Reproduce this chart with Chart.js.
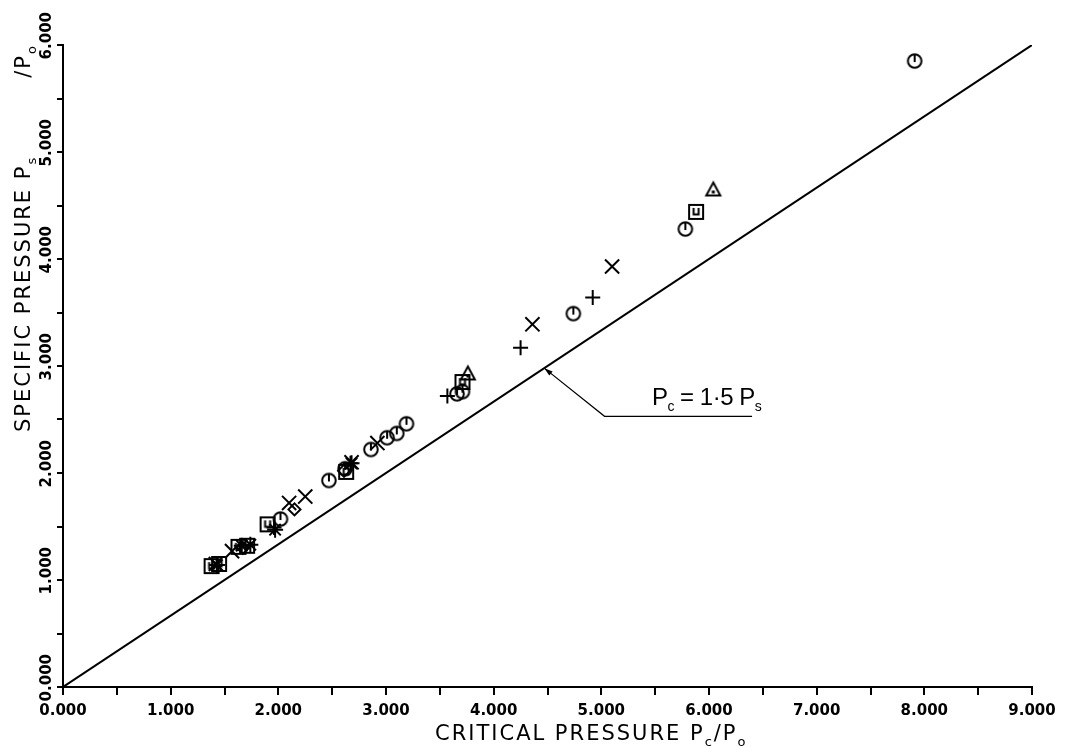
<!DOCTYPE html>
<html>
<head>
<meta charset="utf-8">
<script src="https://cdn.jsdelivr.net/npm/chart.js@4.4.0/dist/chart.umd.min.js"></script>
<style>
  html, body { margin: 0; padding: 0; background: #fff; }
  canvas { display: block; }
</style>
</head>
<body>
<canvas id="pressureChart" width="1071" height="747"></canvas>
<script>
// points: x = Pc/Po, y = Ps/Po
var circleX = [7.91, 5.78, 4.74, 3.71, 3.66, 3.19, 3.10, 3.01, 2.86, 2.47, 2.02, 2.62];
var circleY = [5.85, 4.28, 3.49, 2.76, 2.74, 2.46, 2.37, 2.33, 2.22, 1.93, 1.57, 2.04];

var squareX = [5.88, 3.71, 2.63, 1.90, 1.38, 1.45, 1.63, 1.71];
var squareY = [4.44, 2.85, 2.01, 1.52, 1.13, 1.15, 1.31, 1.32];

var triangleX = [6.04, 3.76];
var triangleY = [4.65, 2.93];

var plusX = [4.92, 4.25, 3.57, 2.67, 1.96];
var plusY = [3.64, 3.17, 2.72, 2.09, 1.49];

var crossX = [5.10, 4.36, 2.25, 2.10, 2.92, 1.42, 1.57, 2.68];
var crossY = [3.93, 3.39, 1.78, 1.72, 2.28, 1.15, 1.27, 2.10];

var diamondX = [2.15, 2.61, 1.67];
var diamondY = [1.66, 2.02, 1.30];

var starX = [2.68, 1.97, 1.66, 1.74, 1.43];
var starY = [2.09, 1.47, 1.32, 1.33, 1.14];

// reference line Pc = 1.5 Ps
var lineX = [0, 9];
var lineY = [0, 6];

var xTickLabels = ['0.000', '1.000', '2.000', '3.000', '4.000', '5.000', '6.000', '7.000', '8.000', '9.000'];
var yTickLabels = ['0.000', '1.000', '2.000', '3.000', '4.000', '5.000', '6.000'];

function pts(xs, ys) {
  return xs.map(function (x, i) { return { x: x, y: ys[i] }; });
}

// small marker pictures like the plotter symbols
function icon(size, draw) {
  var c = document.createElement('canvas');
  c.width = c.height = size;
  var g = c.getContext('2d');
  g.strokeStyle = '#000';
  g.fillStyle = '#000';
  g.lineWidth = 2;
  draw(g, size / 2);
  return c;
}

var circleIcon = icon(18, function (g, m) {
  g.beginPath();
  g.arc(m, m, 6.8, 0, Math.PI * 2);
  g.moveTo(m, m - 6.8);
  g.lineTo(m, m + 1);
  g.stroke();
});

var squareIcon = icon(18, function (g, m) {
  g.strokeRect(2, 2, 14, 14);
  g.beginPath();
  g.moveTo(6.5, 5);
  g.lineTo(6.5, 11.5);
  g.lineTo(11.5, 11.5);
  g.lineTo(11.5, 5);
  g.stroke();
});

var triangleIcon = icon(20, function (g, m) {
  g.beginPath();
  g.moveTo(m, 3);
  g.lineTo(17, 16);
  g.lineTo(3, 16);
  g.closePath();
  g.stroke();
  g.fillRect(m - 1.5, 11, 3, 3);
});

function markers(xs, ys, style, r) {
  return {
    data: pts(xs, ys),
    pointStyle: style,
    pointRadius: r,
    pointBorderWidth: 2,
    borderColor: '#000',
    backgroundColor: 'rgba(0,0,0,0)',
    showLine: false
  };
}

// text with subscripts, drawn left to right from (x, y) on the baseline
function drawRich(ctx, parts, x, y, size, family) {
  var cx = x;
  parts.forEach(function (p) {
    if (p.gap) { cx += p.gap; return; }
    var s = p.sub ? Math.round(size * 0.6) : size;
    ctx.font = s + 'px ' + family;
    ctx.fillText(p.t, cx, y + (p.sub ? size * 0.28 : 0));
    cx += ctx.measureText(p.t).width;
  });
}

var extras = {
  id: 'extras',
  afterDraw: function (chart) {
    var ctx = chart.ctx;
    var xs = chart.scales.x, ys = chart.scales.y;
    ctx.save();
    ctx.fillStyle = '#000';
    ctx.strokeStyle = '#000';
    ctx.textBaseline = 'alphabetic';
    ctx.textAlign = 'left';

    // axis titles
    ctx.letterSpacing = '2px';
    drawRich(ctx, [{ t: 'CRITICAL PRESSURE P' }, { t: 'c', sub: true }, { t: '/P' }, { t: 'o', sub: true }],
      435, 740, 21, '"DejaVu Sans"');

    ctx.save();
    ctx.translate(22, 432);
    ctx.rotate(-Math.PI / 2);
    drawRich(ctx, [{ t: 'SPECIFIC PRESSURE P' }, { t: 's', sub: true }, { gap: 78 }, { t: '/P' }, { t: 'o', sub: true }],
      0, 8, 21, '"DejaVu Sans"');
    ctx.restore();
    ctx.letterSpacing = '0px';

    // leader line for the label of the reference line
    var tip = { x: xs.getPixelForValue(4.47), y: ys.getPixelForValue(2.98) };
    var elbow = { x: xs.getPixelForValue(5.03), y: ys.getPixelForValue(2.53) };
    var end = { x: xs.getPixelForValue(6.40), y: elbow.y };
    ctx.lineWidth = 1.2;
    ctx.beginPath();
    ctx.moveTo(end.x, end.y);
    ctx.lineTo(elbow.x, elbow.y);
    ctx.lineTo(tip.x, tip.y);
    ctx.stroke();
    var ang = Math.atan2(tip.y - elbow.y, tip.x - elbow.x);
    ctx.beginPath();
    ctx.moveTo(tip.x, tip.y);
    ctx.lineTo(tip.x - 9 * Math.cos(ang - 0.3), tip.y - 9 * Math.sin(ang - 0.3));
    ctx.lineTo(tip.x - 9 * Math.cos(ang + 0.3), tip.y - 9 * Math.sin(ang + 0.3));
    ctx.closePath();
    ctx.fill();

    ctx.letterSpacing = '-0.5px';
    drawRich(ctx, [{ t: 'P' }, { t: 'c', sub: true }, { t: ' = 1\u00b75 P' }, { t: 's', sub: true }],
      xs.getPixelForValue(5.47), ys.getPixelForValue(2.64), 24, '"Liberation Sans"');
    ctx.restore();
  }
};

var tickFont = { family: '"DejaVu Sans"', size: 15, weight: 'bold' };

new Chart(document.getElementById('pressureChart'), {
  type: 'scatter',
  data: {
    datasets: [
      {
        type: 'line',
        data: pts(lineX, lineY),
        borderColor: '#000',
        borderWidth: 2,
        pointRadius: 0,
        fill: false
      },
      markers(circleX, circleY, circleIcon, 9),
      markers(squareX, squareY, squareIcon, 9),
      markers(triangleX, triangleY, triangleIcon, 10),
      markers(plusX, plusY, 'cross', 7.5),
      markers(crossX, crossY, 'crossRot', 10),
      markers(diamondX, diamondY, 'rectRot', 6),
      markers(starX, starY, 'star', 8)
    ]
  },
  options: {
    responsive: false,
    animation: false,
    layout: { padding: { left: 0, top: 45, right: 39, bottom: 0 } },
    plugins: {
      legend: { display: false },
      tooltip: { enabled: false }
    },
    scales: {
      x: {
        type: 'linear',
        min: 0,
        max: 9,
        afterFit: function (s) { s.height = 60; },
        border: { color: '#000', width: 2 },
        grid: { drawOnChartArea: false, drawTicks: true, tickLength: 8, color: '#000', lineWidth: 2 },
        ticks: {
          stepSize: 0.5,
          autoSkip: false,
          maxRotation: 0,
          padding: 7,
          color: '#000',
          font: tickFont,
          callback: function (v) { return Number.isInteger(v) ? xTickLabels[v] : ''; }
        }
      },
      y: {
        type: 'linear',
        min: 0,
        max: 6,
        afterFit: function (s) { s.width = 63; },
        border: { color: '#000', width: 2 },
        grid: { drawOnChartArea: false, drawTicks: true, tickLength: 6, color: '#000', lineWidth: 2 },
        ticks: {
          stepSize: 0.5,
          autoSkip: false,
          minRotation: 90,
          maxRotation: 90,
          padding: 10,
          labelOffset: -33,
          color: '#000',
          font: tickFont,
          callback: function (v) { return Number.isInteger(v) ? yTickLabels[v] : ''; }
        }
      }
    }
  },
  plugins: [extras]
});
</script>
</body>
</html>
